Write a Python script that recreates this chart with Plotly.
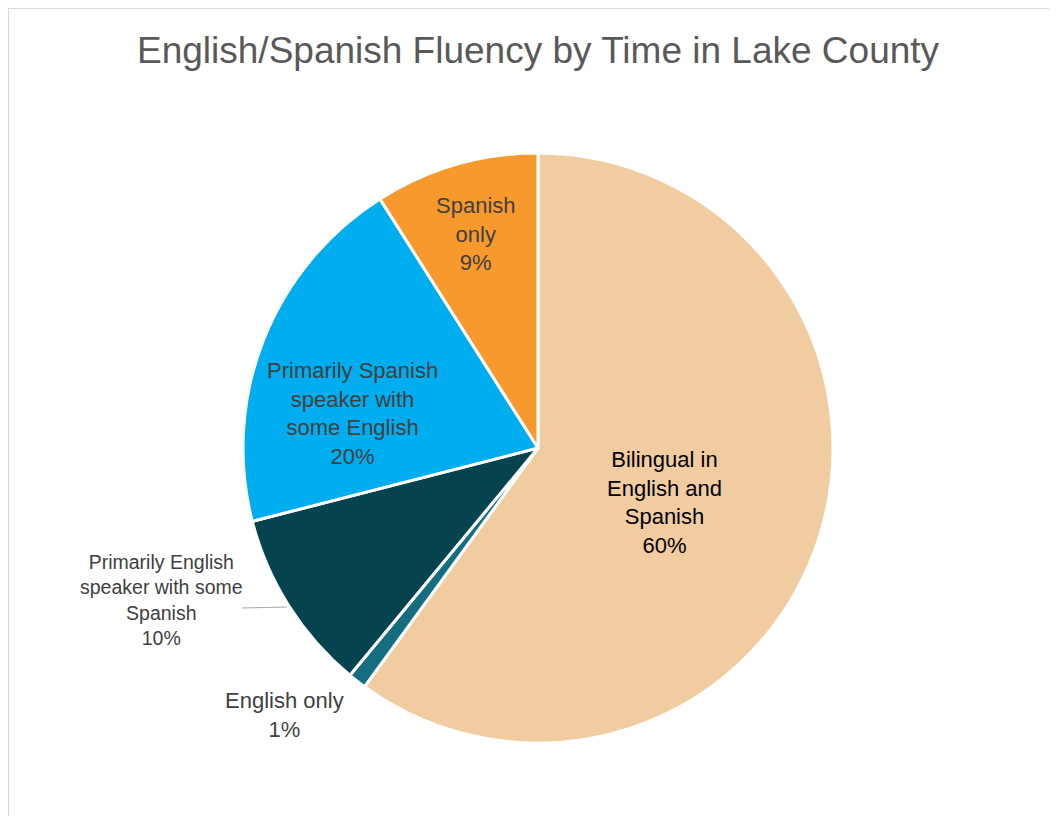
import plotly.graph_objects as go

W, H = 1057, 816
OFF = 8  # page body margin offset

categories = [
    "Bilingual in English and Spanish",
    "English only",
    "Primarily English speaker with some Spanish",
    "Primarily Spanish speaker with some English",
    "Spanish only",
]
values = [60, 1, 10, 20, 9]
colors = ["#F0CCA0", "#146E80", "#05444F", "#00ADEE", "#F7992C"]

label_texts = [
    "Bilingual in<br>English and<br>Spanish<br>60%",
    "English only<br>1%",
    "Primarily English<br>speaker with some<br>Spanish<br>10%",
    "Primarily Spanish<br>speaker with<br>some English<br>20%",
    "Spanish<br>only<br>9%",
]
label_pos = [(664, 503), (284, 715), (161, 600), (352, 413), (476, 234)]
label_colors = ["#000000", "#404040", "#404040", "#404040", "#404040"]
label_sizes = [22, 22, 19.5, 22, 22]

FONT = "Liberation Sans, Arial, sans-serif"


def px(x):
    return (x - OFF) / W


def py(y):
    return 1 - (y - OFF) / H


fig = go.Figure(
    go.Pie(
        labels=categories,
        values=values,
        sort=False,
        direction="clockwise",
        rotation=0,
        marker=dict(colors=colors, line=dict(color="white", width=3)),
        textinfo="none",
        hoverinfo="label+percent",
        showlegend=False,
        domain=dict(x=[px(243), px(833)], y=[py(743), py(153)]),
    )
)

annotations = []
for t, (x, y), c, s in zip(label_texts, label_pos, label_colors, label_sizes):
    annotations.append(
        dict(
            text=t,
            x=px(x),
            y=py(y),
            xref="paper",
            yref="paper",
            xanchor="center",
            yanchor="middle",
            showarrow=False,
            align="center",
            font=dict(family=FONT, size=s, color=c),
        )
    )

annotations.append(
    dict(
        text="English/Spanish Fluency by Time in Lake County",
        x=px(538),
        y=py(50),
        xref="paper",
        yref="paper",
        xanchor="center",
        yanchor="middle",
        showarrow=False,
        font=dict(family=FONT, size=37, color="#595959"),
    )
)

fig.update_layout(
    width=W,
    height=H,
    margin=dict(l=0, r=0, t=0, b=0),
    paper_bgcolor="white",
    plot_bgcolor="white",
    annotations=annotations,
    shapes=[
        dict(
            type="line",
            xref="paper",
            yref="paper",
            x0=px(242),
            y0=py(608),
            x1=px(287),
            y1=py(607),
            line=dict(color="#A6A6A6", width=1),
        ),
        dict(
            type="rect",
            xref="paper",
            yref="paper",
            x0=px(8.5),
            y0=py(840),
            x1=px(1080),
            y1=py(8.5),
            line=dict(color="#D9D9D9", width=1.2),
            fillcolor="rgba(0,0,0,0)",
        ),
    ],
)

fig.write_html("out.html")
